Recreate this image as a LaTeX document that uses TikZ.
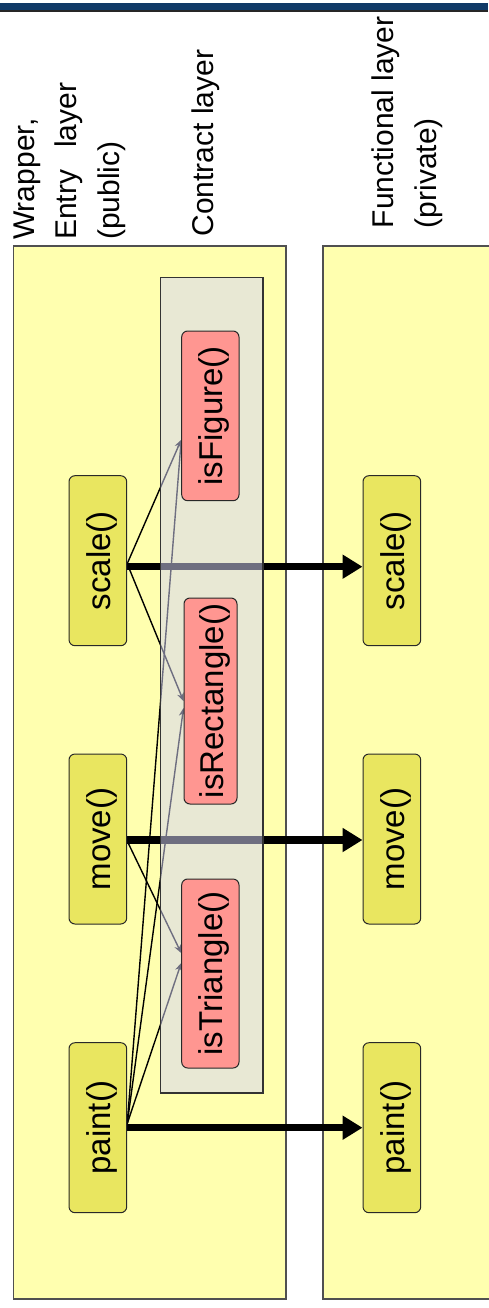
\documentclass[tikz,border=0pt]{standalone}
\usepackage{fontspec}
\setmainfont{Liberation Sans}
\usepackage{graphicx}
\usetikzlibrary{arrows.meta}
\pgfdeclarelayer{bg}
\pgfdeclarelayer{back}
\pgfdeclarelayer{conn}
\pgfdeclarelayer{over}
\pgfsetlayers{bg,back,conn,over,main}
\definecolor{layerfill}{RGB}{255,255,175}
\definecolor{layerdraw}{RGB}{80,80,80}
\definecolor{methfill}{RGB}{233,230,96}
\definecolor{checkfill}{RGB}{255,150,145}
\definecolor{contractfill}{RGB}{211,211,246}
\definecolor{barblue}{RGB}{16,58,103}
\definecolor{nodedraw}{RGB}{40,40,40}
\newcommand{\vtext}[1]{\rotatebox{90}{#1}\kern-8pt}
\begin{document}
\begin{tikzpicture}[x=1pt,y=-1pt,
  layerbox/.style={draw=layerdraw, line width=1.3pt, fill=layerfill, inner sep=0pt},
  contractbox/.style={draw=black!80, line width=1.2pt, fill=contractfill, fill opacity=0.52, draw opacity=1, inner sep=0pt},
  method/.style={draw=nodedraw, line width=1pt, fill=methfill, rounded corners=6pt, inner sep=0pt,
    minimum width=57.7pt, minimum height=170pt, font=\fontsize{33}{36}\selectfont},
  check/.style={draw=nodedraw, line width=1pt, fill=checkfill, rounded corners=6pt, inner sep=0pt,
    font=\fontsize{33}{36}\selectfont},
  lbl/.style={rotate=90, align=left, inner sep=0pt, anchor=north west, font=\fontsize{30}{42.5}\selectfont},
  bigarrow/.style={line width=7.5pt, -{Triangle[length=20pt,width=23pt]}},
  callarrow/.style={line width=1.4pt, -{Stealth[length=8pt,width=7pt,inset=2.5pt]}}]
\useasboundingbox (0,0) rectangle (488,1308);
\begin{pgfonlayer}{bg}
\fill[white] (0,0) rectangle (488,1308);
\end{pgfonlayer}
% top bar
\fill[barblue] (0,3) rectangle (488,10.5);
\fill[black!85] (0,10.5) rectangle (488,12);
% labels
\node[lbl] (entrylbl) at (13.3,240) {Wrapper,\\Entry\hspace{22pt}layer\\(public)};
\node[lbl] (contractlbl) at (191.7,236.7) {Contract layer};
\node[lbl] (funclbl) at (371.7,228.3) {Functional layer\\(private)};
% layer boxes
\begin{pgfonlayer}{back}
\node[layerbox, minimum width=272.3pt, minimum height=1053pt] (entry) at (149.85,772.5) {};
\node[layerbox, minimum width=167pt, minimum height=1053pt] (func) at (406.5,772.5) {};
\end{pgfonlayer}
% contract container (semi-transparent, over the connectors)
\begin{pgfonlayer}{over}
\node[contractbox, minimum width=102.3pt, minimum height=815.3pt] (contract) at (211.85,685.35) {};
\end{pgfonlayer}
% method nodes
\node[method] (scaleL) at (97.85,560.7) {\vtext{scale()}};
\node[method] (moveL) at (97.85,839) {\vtext{move()}};
\node[method] (paintL) at (97.85,1127.7) {\vtext{paint()}};
\node[method] (scaleR) at (391.85,560.7) {\vtext{scale()}};
\node[method] (moveR) at (391.85,839) {\vtext{move()}};
\node[method] (paintR) at (391.85,1127.7) {\vtext{paint()}};
% check nodes
\node[check, minimum width=57.3pt, minimum height=169.7pt] (isFigure) at (210.35,415.85) {\vtext{isFigure()}};
\node[check, minimum width=53pt, minimum height=206pt] (isRectangle) at (210.5,701) {\vtext{isRectangle()}};
\node[check, minimum width=57.3pt, minimum height=189pt] (isTriangle) at (210.35,973.5) {\vtext{isTriangle()}};
% connectors
\begin{pgfonlayer}{conn}
\draw[bigarrow] ([yshift=-6pt]scaleL.east) -- ([yshift=-6pt]scaleR.west);
\draw[bigarrow] ([yshift=-1pt]moveL.east) -- ([yshift=-1pt]moveR.west);
\draw[bigarrow] (paintL.east) -- (paintR.west);
\draw[callarrow] ([yshift=-3pt]scaleL.east) -- ([yshift=-24pt]isFigure.west);
\draw[callarrow] ([yshift=-3pt]scaleL.east) -- (isRectangle.west);
\draw[callarrow] ([yshift=-2pt]moveL.east) -- ([yshift=20.5pt]isTriangle.west);
\draw[callarrow] ([yshift=4pt]paintL.east) -- ([yshift=-24pt]isFigure.west);
\draw[callarrow] ([yshift=4pt]paintL.east) -- ([yshift=-7pt]isRectangle.west);
\draw[callarrow] ([yshift=4pt]paintL.east) -- ([yshift=10.5pt]isTriangle.west);
\end{pgfonlayer}
\end{tikzpicture}
\end{document}
